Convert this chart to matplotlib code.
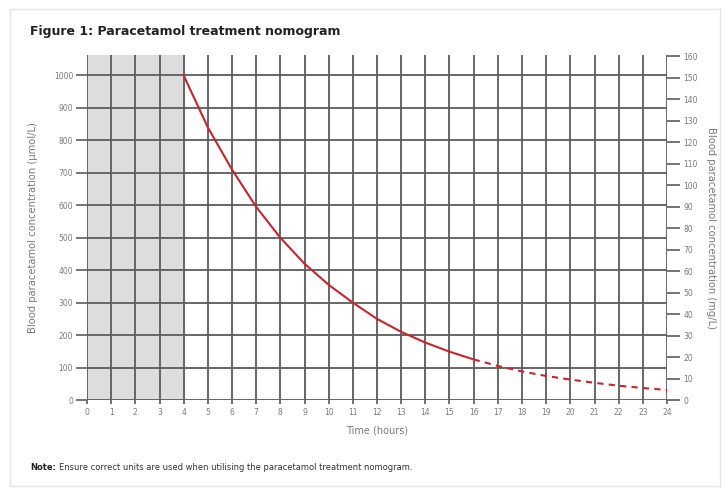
import matplotlib.pyplot as plt
from matplotlib.patches import Rectangle

# curve (umol/L against hours)
hours = [4, 5, 6, 7, 8, 9, 10, 11, 12, 13, 14, 15, 16,
         17, 18, 19, 20, 21, 22, 23, 24]
conc_umol = [1000, 840, 710, 595, 500, 420, 355, 300, 250, 210, 177, 149, 125,
             105, 88, 74, 63, 53, 44, 37, 31]
solid_end = 16

x_ticks = list(range(0, 25))
left_ticks = list(range(0, 1001, 100))
right_ticks = list(range(0, 161, 10))
umol_per_mg = 6.62

grid_col = '#5c5c5c'
label_col = '#7a7a7a'
line_col = '#c4262e'

fig = plt.figure(figsize=(7.26, 4.91), dpi=100)
fig.patch.set_facecolor('white')
fig.patches.append(Rectangle((10 / 726, 1 - 486 / 491), 710 / 726, 477 / 491,
                             transform=fig.transFigure, fill=False,
                             edgecolor='#e4e4e4', linewidth=1.0))

ax = fig.add_axes([87 / 726, 1 - 400 / 491, 580 / 726, 345 / 491])
ymax = 1063
ax.set_xlim(0, 24)
ax.set_ylim(0, ymax)

ax.axvspan(0, 4, color='#dddddd', zorder=0)
for h in x_ticks:
    ax.axvline(h, color=grid_col, lw=1.3, zorder=1)
for v in left_ticks:
    ax.axhline(v, color=grid_col, lw=1.3, zorder=1)

# solid part then dashed tail
i = hours.index(solid_end)
ax.plot(hours[:i + 1], conc_umol[:i + 1], color=line_col, lw=1.5, zorder=3)
ax.plot(hours[i:], conc_umol[i:], color=line_col, lw=1.5, ls=(0, (3, 2.5)), zorder=3)

for s in ax.spines.values():
    s.set_visible(False)

ax.set_xticks(x_ticks)
ax.set_yticks(left_ticks)
ax.tick_params(axis='x', direction='out', length=3, width=1.2, color=grid_col,
               labelsize=5.5, labelcolor=label_col, pad=3)
ax.tick_params(axis='y', direction='out', length=8, width=1.2, color=grid_col,
               labelsize=5.5, labelcolor=label_col, pad=2)
ax.set_xlabel('Time (hours)', fontsize=7, color=label_col, labelpad=6)
ax.set_ylabel('Blood paracetamol concentration (µmol/L)', fontsize=7.2,
              color=label_col, labelpad=11)

ax2 = ax.twinx()
ax2.set_ylim(0, ymax / umol_per_mg)
ax2.set_yticks(right_ticks)
for s in ax2.spines.values():
    s.set_visible(False)
ax2.tick_params(axis='y', direction='out', length=9, width=1.2, color=grid_col,
                labelsize=5.5, labelcolor=label_col, pad=3)
ax2.set_ylabel('Blood paracetamol concentration (mg/L)', fontsize=7.2,
               color=label_col, rotation=270, labelpad=13)

fig.text(30 / 726, 1 - 32 / 491, 'Figure 1: Paracetamol treatment nomogram',
         fontsize=9, fontweight='bold', color='#222222', va='center')
note = fig.text(30 / 726, 1 - 467 / 491, 'Note:', fontsize=6, fontweight='bold',
                color='#222222', va='center')
# rest of the note sits right after the bold word
ax.annotate('Ensure correct units are used when utilising the paracetamol treatment nomogram.',
            xy=(1, 0.5), xycoords=note, xytext=(2.5, 0), textcoords='offset points',
            fontsize=6, color='#333333', va='center', ha='left',
            annotation_clip=False)

fig.savefig('out.png', dpi=100)
